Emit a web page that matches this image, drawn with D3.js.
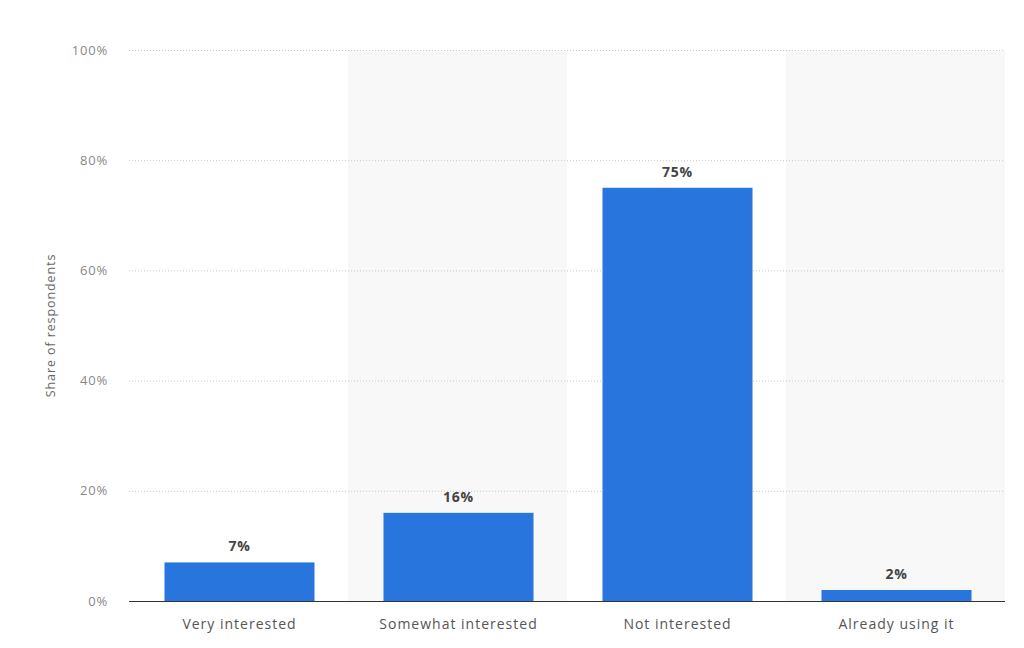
<!DOCTYPE html>
<html>
<head>
<meta charset="utf-8">
<script src="https://cdn.jsdelivr.net/npm/d3@7"></script>
<style>
  body { margin: 0; background: #fff; font-family: "Open Sans", sans-serif; }
</style>
</head>
<body>
<div id="chart"></div>
<script>
// Chart data
const categories = ["Very interested", "Somewhat interested", "Not interested", "Already using it"];
const shares = [7, 16, 75, 2];
const yTicks = [0, 20, 40, 60, 80, 100];

const margin = { top: 50, right: 19, bottom: 47, left: 129 },
  width = 1024 - margin.left - margin.right,
  height = 648 - margin.top - margin.bottom;

const svg = d3.select("#chart")
  .append("svg")
  .attr("width", 1024)
  .attr("height", 648)
  .append("g")
  .attr("transform", "translate(" + margin.left + "," + margin.top + ")");

const x = d3.scaleBand()
  .domain(categories)
  .range([0, width])
  .padding(0);

const y = d3.scaleLinear()
  .domain([0, 100])
  .range([height, 0]);

// alternating band shading
svg.selectAll(".band")
  .data(categories.filter((_, i) => i % 2 === 1))
  .join("rect")
  .attr("class", "band")
  .attr("x", d => x(d))
  .attr("y", 0)
  .attr("width", x.bandwidth())
  .attr("height", height)
  .attr("fill", "#f8f8f8");

// dotted grid lines
svg.append("g")
  .selectAll("line")
  .data(yTicks.filter(t => t > 0))
  .join("line")
  .attr("x1", 0)
  .attr("x2", width)
  .attr("y1", d => y(d) + 0.5)
  .attr("y2", d => y(d) + 0.5)
  .attr("stroke", "#c8c8c8")
  .attr("stroke-dasharray", "1,2");

// y tick labels
svg.append("g")
  .selectAll("text")
  .data(yTicks)
  .join("text")
  .attr("x", -21)
  .attr("y", d => y(d))
  .attr("dy", "0.35em")
  .attr("text-anchor", "end")
  .attr("fill", "#888")
  .style("font-size", "13px")
  .style("letter-spacing", "0.8px")
  .text(d => d + "%");

// y axis title
svg.append("text")
  .attr("transform", "rotate(-90)")
  .attr("x", -height / 2)
  .attr("y", -74)
  .attr("text-anchor", "middle")
  .attr("fill", "#666")
  .style("font-size", "12.5px")
  .style("letter-spacing", "0.9px")
  .text("Share of respondents");

// bars
const barW = x.bandwidth() * 0.685;
svg.selectAll(".bar")
  .data(shares)
  .join("rect")
  .attr("class", "bar")
  .attr("x", (d, i) => x(categories[i]) + (x.bandwidth() - barW) / 2 + 1)
  .attr("y", d => y(d))
  .attr("width", barW)
  .attr("height", d => height - y(d))
  .attr("fill", "#2876dd");

// value labels
svg.selectAll(".val")
  .data(shares)
  .join("text")
  .attr("class", "val")
  .attr("x", (d, i) => x(categories[i]) + x.bandwidth() / 2 + 1)
  .attr("y", d => y(d) - 11)
  .attr("text-anchor", "middle")
  .attr("fill", "#444")
  .style("font-size", "14px")
  .style("font-weight", "bold")
  .style("letter-spacing", "0.8px")
  .text(d => d + "%");

// baseline
svg.append("line")
  .attr("x1", 0)
  .attr("x2", width)
  .attr("y1", height + 0.5)
  .attr("y2", height + 0.5)
  .attr("stroke", "#333")
  .attr("stroke-width", 1.2);

// category labels
svg.append("g")
  .selectAll("text")
  .data(categories)
  .join("text")
  .attr("x", d => x(d) + x.bandwidth() / 2 + 1)
  .attr("y", height + 28)
  .attr("text-anchor", "middle")
  .attr("fill", "#555")
  .style("font-size", "14px")
  .style("letter-spacing", "1px")
  .text(d => d);
</script>
</body>
</html>
